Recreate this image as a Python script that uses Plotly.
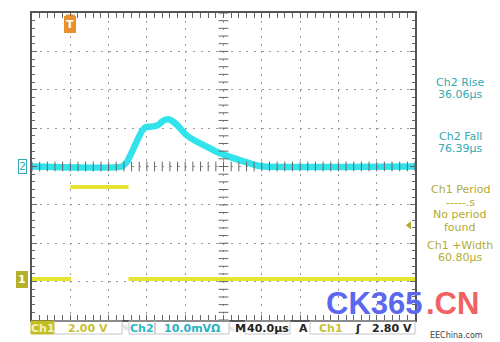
import plotly.graph_objects as go

# ---------------- data ----------------
# time in microseconds relative to trigger; 40 us/div
ch2_time = [-40, 54.0, 59.2, 64.4, 69.7, 74.9, 79.1, 85.3, 91.6, 96.8, 102.0, 106.2,
            112.5, 119.8, 130.3, 140.7, 153.2, 166.8, 182.5, 192.9, 201.2, 360]
ch2_mv = [0, 0, 1.2, 3.8, 6.7, 9.3, 10.3, 10.4, 10.8, 11.9, 12.3, 11.9,
          10.6, 8.5, 6.7, 5.4, 3.8, 2.5, 1.2, 0.4, 0, 0]

ch1_time = [-40, 0.7, None, 0, 60.8, None, 60.8, 360]
ch1_volt = [0, 0, None, 4.8, 4.8, None, 0, 0]

trigger_level = 2.80
measure_labels = ["Ch2 Rise", "36.06µs", "Ch2 Fall", "76.39µs",
                  "Ch1 Period", "-----.s", "No period", "found",
                  "Ch1 +Width", "60.80µs"]

# ---------------- geometry helpers ----------------
L, R, T, B = 32, 415, 13, 320
W, H = 500, 342
def px(x):
    return (x - L) / (R - L)
def py(y):
    return (B - y) / (B - T)

TEAL = "#33a9b1"
OLIVE = "#b3ab30"
CYAN = "rgba(38,226,234,0.95)"
YEL = "rgba(230,226,40,0.95)"
ORANGE = "#e8912c"
FRAME = "#555555"
FONT = "DejaVu Sans"

fig = go.Figure()

fig.add_trace(go.Scatter(x=ch2_time, y=ch2_mv, mode="lines",
                         line=dict(color=CYAN, width=6.5, shape="spline", smoothing=0.5),
                         hoverinfo="skip", showlegend=False))
fig.add_trace(go.Scatter(x=ch1_time, y=ch1_volt, mode="lines", yaxis="y2",
                         line=dict(color=YEL, width=4),
                         hoverinfo="skip", showlegend=False, connectgaps=False))

# centre crosshair ticks
xt = [-40 + 8 * i for i in range(51)]
fig.add_trace(go.Scatter(x=xt, y=[0] * len(xt), mode="markers",
                         marker=dict(symbol="line-ns", size=7, line=dict(width=1, color="#666")),
                         hoverinfo="skip", showlegend=False))
yt = [-40 + 2 * i for i in range(41)]
fig.add_trace(go.Scatter(x=[160] * len(yt), y=yt, mode="markers",
                         marker=dict(symbol="line-ew", size=7, line=dict(width=1, color="#666")),
                         hoverinfo="skip", showlegend=False))

# trigger level marker
fig.add_trace(go.Scatter(x=[354], y=[trigger_level], yaxis="y2", mode="markers",
                         marker=dict(symbol="triangle-left", size=7, color=OLIVE),
                         hoverinfo="skip", showlegend=False, cliponaxis=False))
# trigger position marker
fig.add_trace(go.Scatter(x=[0], y=[39], mode="markers",
                         marker=dict(symbol="triangle-down", size=9, color=ORANGE),
                         hoverinfo="skip", showlegend=False, cliponaxis=False))

axis_common = dict(showline=True, mirror="allticks", linecolor=FRAME, linewidth=2,
                   ticks="inside", ticklen=5, tickcolor="#666", tickwidth=1,
                   showticklabels=False, zeroline=False,
                   showgrid=True, gridcolor="#9a9a9a", gridwidth=1, griddash="2px,5.66px")

fig.update_layout(
    width=W, height=H,
    margin=dict(l=L, r=W - R, t=T, b=H - B),
    paper_bgcolor="white", plot_bgcolor="white",
    xaxis=dict(range=[-40, 360], dtick=40, tick0=-40,
               minor=dict(dtick=8, ticklen=3, tickcolor="#666", ticks="inside", showgrid=False),
               **axis_common),
    yaxis=dict(range=[-40, 40], dtick=10, tick0=-40,
               minor=dict(dtick=2, ticklen=3, tickcolor="#666", ticks="inside", showgrid=False),
               **axis_common),
    yaxis2=dict(range=[-2.135, 13.865], overlaying="y", showgrid=False, showline=False,
                showticklabels=False, zeroline=False, ticks=""),
)

ann = []
def text_px(t, x, y, color, size=11, xanchor="center", bold=False, **kw):
    ann.append(dict(text=("<b>%s</b>" % t) if bold else t, xref="paper", yref="paper",
                    x=px(x), y=py(y), xanchor=xanchor, yanchor="middle", showarrow=False,
                    font=dict(family=FONT, size=size, color=color), **kw))

# measurement panel
ys = [82, 94, 136, 148, 189, 202, 214, 227, 245, 257]
cols = [TEAL] * 4 + [OLIVE] * 6
for t, y, c in zip(measure_labels, ys, cols):
    text_px(t, 460, y, c, size=11)

# ground markers
text_px("2", 22, 166.5, TEAL, size=11, bgcolor="white", bordercolor=TEAL, borderwidth=1, borderpad=0)
text_px("1", 22, 279, "white", size=11, bold=True, bgcolor="#b5b22a", bordercolor="#b5b22a",
        borderwidth=1, borderpad=1)
# trigger T marker
text_px("T", 70.3, 24, "white", size=11, bold=True, bgcolor=ORANGE, bordercolor=ORANGE,
        borderwidth=1, borderpad=1)

# status bar
SB = 328
shapes = []
def box(x0, x1, fill=None, line="#c4c4c4"):
    shapes.append(dict(type="rect", xref="paper", yref="paper",
                       x0=px(x0), x1=px(x1), y0=py(334), y1=py(321),
                       fillcolor=fill if fill else "rgba(0,0,0,0)",
                       line=dict(color=line, width=1), layer="above"))
box(31, 54, fill="#c2bd22", line="#c2bd22")
box(54, 122)
box(129, 155)
box(155, 229)
box(245, 290)
box(310, 415)
text_px("Ch1", 42.5, SB, "#f4f2c0", size=11, bold=True)
text_px("2.00 V", 88, SB, "#c9c230", size=11, bold=True)
text_px("%", 125, SB, "#bbbbbb", size=7)
text_px("Ch2", 142, SB, "#2bb8c8", size=11, bold=True)
text_px("10.0mVΩ", 192, SB, "#2bb0c0", size=11, bold=True)
text_px("%", 231.5, SB, "#bbbbbb", size=6)
text_px("M", 240, SB, "#222222", size=11, bold=True)
text_px("40.0µs", 267.5, SB, "#222222", size=11, bold=True)
text_px("A", 303, SB, "#222222", size=11, bold=True)
text_px("Ch1", 331, SB, "#c9c230", size=11, bold=True)
text_px("ʃ", 358, SB, "#222222", size=11, bold=True)
text_px("2.80 V", 392, SB, "#222222", size=11, bold=True)

# watermark
ann.append(dict(text="<b>CK365</b>", xref="paper", yref="paper", x=px(324), y=py(303),
                xanchor="left", yanchor="middle", showarrow=False,
                font=dict(family="Liberation Sans", size=31, color="#5a67ee")))
ann.append(dict(text="<b>.CN</b>", xref="paper", yref="paper", x=px(424), y=py(303),
                xanchor="left", yanchor="middle", showarrow=False,
                font=dict(family="Liberation Sans", size=31, color="#f06262")))
text_px("EEChina.com", 456, 335, "#444444", size=8)

fig.update_layout(annotations=ann, shapes=shapes)
fig.write_html("out.html", config={"displayModeBar": False},
               post_script="document.body.style.margin='0';document.body.style.padding='0';")
